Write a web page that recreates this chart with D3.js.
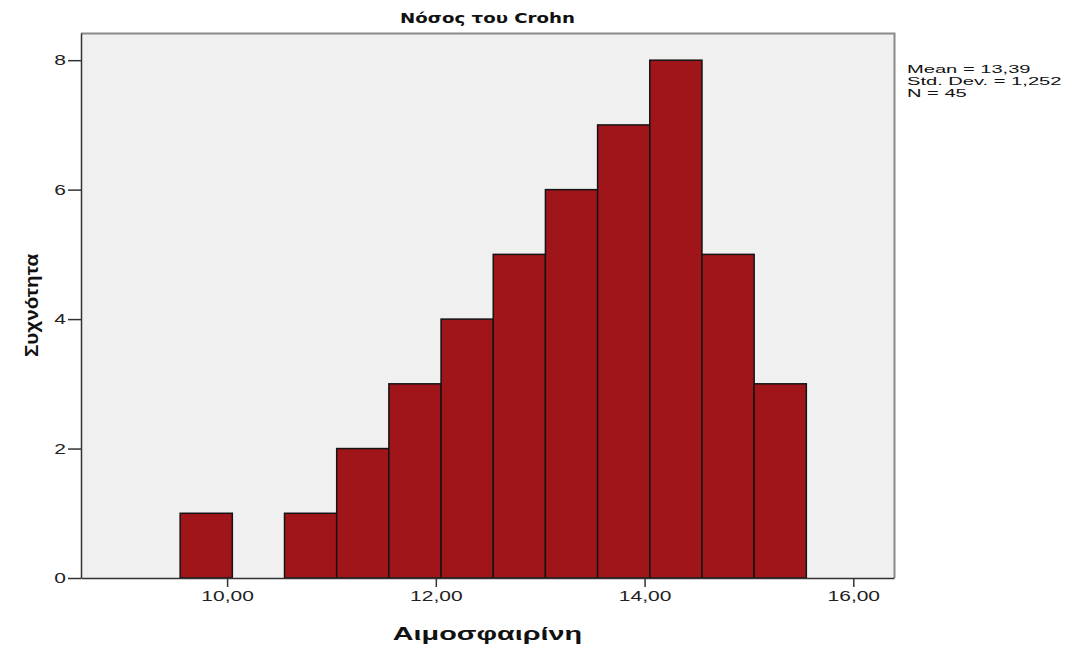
<!DOCTYPE html>
<html>
<head>
<meta charset="utf-8">
<script src="https://cdn.jsdelivr.net/npm/d3@7"></script>
<style>
  html, body { margin: 0; padding: 0; background: #ffffff; }
  svg { display: block; }
</style>
</head>
<body>
<svg id="chart" width="1074" height="648"></svg>
<script>
// Histogram of haemoglobin values, Crohn's disease group
const binEdges = [9.55, 10.05, 10.55, 11.05, 11.55, 12.05, 12.55, 13.05, 13.55, 14.05, 14.55, 15.05, 15.55];
const counts = [1, 0, 1, 2, 3, 4, 5, 6, 7, 8, 5, 3];
const xTicks = [10, 12, 14, 16];
const yTicks = [0, 2, 4, 6, 8];
const statsLines = ["Mean = 13,39", "Std. Dev. = 1,252", "N = 45"];
const titleText = "Νόσος του Crohn";
const xTitle = "Αιμοσφαιρίνη";
const yTitle = "Συχνότητα";

const bins = counts.map((c, i) => ({ x0: binEdges[i], x1: binEdges[i + 1], n: c }));

const svg = d3.select("#chart");
const plot = { left: 81, right: 894, top: 33, bottom: 578 };
const sans = "'Liberation Sans', Arial, sans-serif";
const wide = 1.5; // horizontal stretch of the lettering

const x = d3.scaleLinear().domain([8.6, 16.39]).range([plot.left, plot.right]);
const y = d3.scaleLinear().domain([0, 8.42]).range([plot.bottom, plot.top]);

// plot background
svg.append("rect")
  .attr("x", plot.left).attr("y", plot.top)
  .attr("width", plot.right - plot.left).attr("height", plot.bottom - plot.top)
  .attr("fill", "#f0f0f0");

// bars
svg.append("g").selectAll("rect")
  .data(bins.filter(d => d.n > 0))
  .join("rect")
  .attr("x", d => x(d.x0))
  .attr("y", d => y(d.n))
  .attr("width", d => x(d.x1) - x(d.x0))
  .attr("height", d => y(0) - y(d.n))
  .attr("fill", "#a0151a")
  .attr("stroke", "#141414")
  .attr("stroke-width", 1.5);

// frame: top and right edges in grey
svg.append("path")
  .attr("d", `M${plot.left},${plot.top + 0.5}H${plot.right + 0.5}V${plot.bottom}`)
  .attr("fill", "none")
  .attr("stroke", "#8a8a8a")
  .attr("stroke-width", 2);

// x axis
const fmtComma = v => d3.format(".2f")(v).replace(".", ",");
const xAxis = svg.append("g")
  .attr("transform", `translate(0,${plot.bottom})`)
  .call(d3.axisBottom(x).tickValues(xTicks).tickFormat(fmtComma).tickSizeInner(9).tickSizeOuter(0).tickPadding(4));
xAxis.select(".domain").attr("stroke", "#333").attr("stroke-width", 1.5);
xAxis.selectAll(".tick line").attr("stroke", "#333").attr("stroke-width", 1.5);
xAxis.selectAll(".tick text")
  .attr("fill", "#222")
  .attr("transform", `scale(${wide},1)`)
  .style("font-family", sans)
  .style("font-size", "14px");

// y axis
const yAxis = svg.append("g")
  .attr("transform", `translate(${plot.left},0)`)
  .call(d3.axisLeft(y).tickValues(yTicks).tickFormat(d3.format("d")).tickSizeInner(13).tickSizeOuter(0).tickPadding(3));
yAxis.select(".domain").attr("stroke", "#333").attr("stroke-width", 1.5);
yAxis.selectAll(".tick line").attr("stroke", "#333").attr("stroke-width", 1.5);
yAxis.selectAll(".tick text")
  .attr("fill", "#222")
  .attr("x", 0)
  .attr("transform", `translate(-15,0) scale(${wide},1)`)
  .style("font-family", sans)
  .style("font-size", "14px");

// titles
svg.append("text")
  .attr("transform", `translate(${(plot.left + plot.right) / 2},23) scale(1.3,1)`)
  .attr("text-anchor", "middle")
  .style("font-family", "'DejaVu Sans', Verdana, sans-serif")
  .style("font-weight", "bold")
  .style("font-size", "14px")
  .attr("fill", "#111")
  .text(titleText);

svg.append("text")
  .attr("transform", `translate(${(plot.left + plot.right) / 2},640) scale(1.6,1)`)
  .attr("text-anchor", "middle")
  .style("font-family", sans)
  .style("font-weight", "bold")
  .style("font-size", "18px")
  .attr("fill", "#111")
  .text(xTitle);

svg.append("text")
  .attr("transform", `translate(38,${(plot.top + plot.bottom) / 2}) rotate(-90) scale(1.15,1.05)`)
  .attr("text-anchor", "middle")
  .style("font-family", sans)
  .style("font-weight", "bold")
  .style("font-size", "18px")
  .attr("fill", "#111")
  .text(yTitle);

// summary statistics
svg.append("g").selectAll("text")
  .data(statsLines)
  .join("text")
  .attr("transform", (d, i) => `translate(907,${73 + i * 12}) scale(1.75,1)`)
  .style("font-family", sans)
  .style("font-size", "11.5px")
  .attr("fill", "#111")
  .text(d => d);
</script>
</body>
</html>
